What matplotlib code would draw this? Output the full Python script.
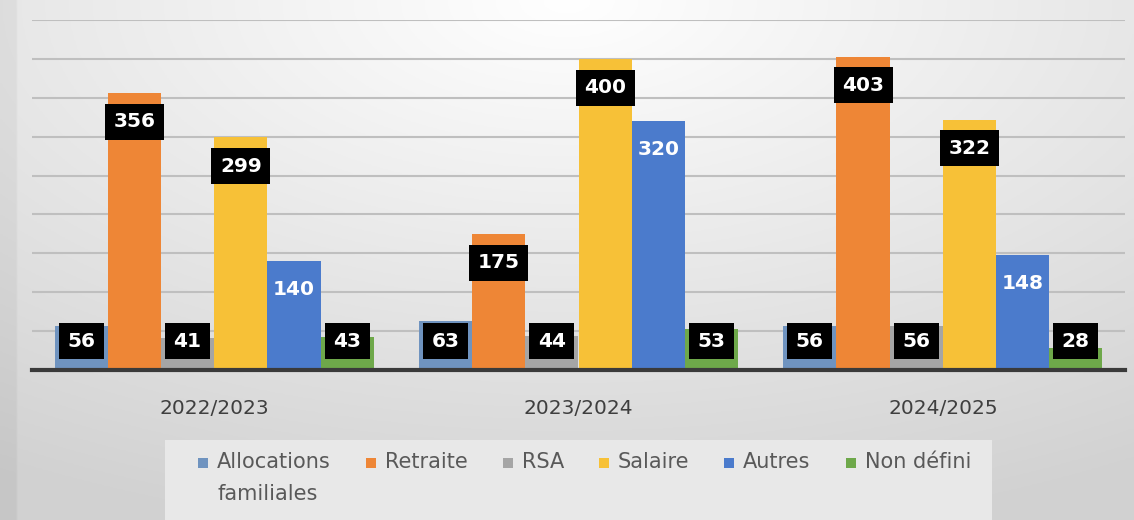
import numpy as np
import matplotlib.pyplot as plt
from matplotlib.patches import Rectangle

# Données
annees = ["2022/2023", "2023/2024", "2024/2025"]
series = ["Allocations\nfamiliales", "Retraite", "RSA", "Salaire", "Autres", "Non défini"]
allocations = [56, 63, 56]
retraite = [356, 175, 403]
rsa = [41, 44, 56]
salaire = [299, 400, 322]
autres = [140, 320, 148]
non_defini = [43, 53, 28]

valeurs = [allocations, retraite, rsa, salaire, autres, non_defini]
couleurs = ["#6f93bf", "#ee8636", "#a5a5a5", "#f7c137", "#4b7bcc", "#6ea84a"]

plt.rcParams['font.family'] = ['DejaVu Sans']

W, H = 1134, 520
fig = plt.figure(figsize=(W / 100, H / 100), dpi=100)

# Fond dégradé (blanc en haut au centre, gris vers les bords)
bg = fig.add_axes([0, 0, 1, 1], zorder=-10)
yy, xx = np.mgrid[0:1:200j, 0:1:400j]
d = np.sqrt(((xx - 0.5) * 1.1) ** 2 + (yy * 1.0) ** 2)
g = np.clip(1.0 - 0.17 * d, 0.82, 1.0)
g[:, :6] -= 0.04
bg.imshow(np.dstack([g, g, g]), aspect='auto', extent=[0, 1, 1, 0])
bg.axis('off')

ax = fig.add_axes([32 / W, 1 - 370 / H, (1125 - 32) / W, 350 / H])
ax.patch.set_alpha(0)

x = np.arange(len(annees))
w = 0.146
for i, (vals, c) in enumerate(zip(valeurs, couleurs)):
    pos = x + (i - 2.5) * w
    ax.bar(pos, vals, width=w, color=c, zorder=3)
    for px, v in zip(pos, vals):
        ly = max(v - 37, 37)
        if i == 4:
            ax.text(px, ly, str(v), ha='center', va='center', color='white',
                    fontsize=14.5, fontweight='bold', zorder=5)
        else:
            ax.text(px, ly, str(v), ha='center', va='center', color='white',
                    fontsize=14.5, fontweight='bold', zorder=5,
                    bbox=dict(boxstyle='square,pad=0.42', fc='black', ec='none'))

ax.set_xlim(-0.5, 2.5)
ax.set_ylim(0, 450)
ax.set_yticks(np.arange(0, 451, 50))
ax.yaxis.grid(True, color='#bfbfbf', linewidth=1.5, zorder=0)
ax.tick_params(axis='y', left=False, labelleft=False)
ax.tick_params(axis='x', bottom=False, length=0, labelsize=14.5,
               labelcolor='#3f3f3f', pad=21)
ax.set_xticks(x)
ax.set_xticklabels(annees)
for s in ['top', 'right', 'left']:
    ax.spines[s].set_visible(False)
ax.spines['bottom'].set_color('#3a3a3a')
ax.spines['bottom'].set_linewidth(3)
ax.spines['bottom'].set_zorder(4)

# Légende (poignée alignée sur la première ligne du libellé)
fig.patches.append(Rectangle((165 / W, 0), (992 - 165) / W, 1 - 440 / H,
                             transform=fig.transFigure, fc='#e8e8e8', ec='none',
                             zorder=-5))
renderer = fig.canvas.get_renderer()
xl = 198
for lab, c in zip(series, couleurs):
    fig.patches.append(Rectangle((xl / W, 1 - 468 / H), 10 / W, 10 / H,
                                 transform=fig.transFigure, fc=c, ec='none'))
    t = fig.text((xl + 19) / W, 1 - 452 / H, lab, ha='left', va='top',
                 fontsize=15, color='#595959', linespacing=1.75)
    bb = t.get_window_extent(renderer)
    xl = bb.x1 + 35

fig.savefig('out.png', dpi=100)
